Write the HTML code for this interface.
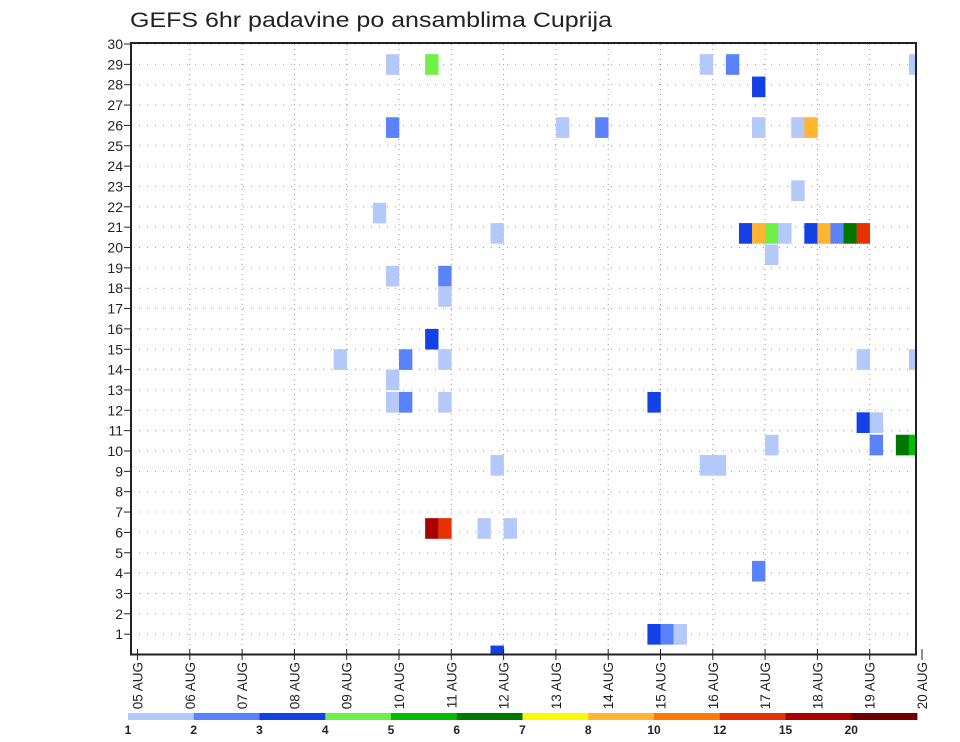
<!DOCTYPE html>
<html><head><meta charset="utf-8">
<style>
html,body{margin:0;padding:0;background:#fff;}
svg{display:block;font-family:"Liberation Sans",sans-serif;}
</style></head>
<body>
<svg id="chart" width="960" height="742" viewBox="0 0 960 742" xmlns="http://www.w3.org/2000/svg">
<text x="130" y="27" font-size="21" fill="#222" textLength="482" lengthAdjust="spacingAndGlyphs">GEFS 6hr padavine po ansamblima Cuprija</text>
<defs><clipPath id="plotclip"><rect x="131" y="44" width="785" height="610.5"/></clipPath></defs>
<g id="grid"></g>
<g id="cells" clip-path="url(#plotclip)"></g>
<rect x="131" y="43" width="785" height="611.5" fill="none" stroke="#222" stroke-width="2"/>
<g id="axes"></g>
<g id="colorbar"></g>
</svg>
<script>
// ---- data ----
const dayLabels = ["05 AUG","06 AUG","07 AUG","08 AUG","09 AUG","10 AUG","11 AUG","12 AUG","13 AUG","14 AUG","15 AUG","16 AUG","17 AUG","18 AUG","19 AUG","20 AUG"];
const memberTicks = [1,2,3,4,5,6,7,8,9,10,11,12,13,14,15,16,17,18,19,20,21,22,23,24,25,26,27,28,29,30];
const levelLabels = ["1","2","3","4","5","6","7","8","10","12","15","20"];
const levelColors = ["#b4c8fa","#5a82fa","#1441e6","#6ef046","#00be00","#007800","#fafa00","#ffb432","#ff7800","#e63200","#aa0000","#6e0000"];
// cell time step (6-hour steps from 05 AUG 00z), member position, precip level index
const cellStep =   [19,22,43,45,59, 47, 19,32,35,47,50,51, 50, 18, 27,46,47,48,49,51,52,53,54,55, 48, 19,23, 23, 22, 15,20,23,55,59, 19, 19,20,23,39, 55,56, 48,56,58,59, 27,43,44, 22,23,26,28, 47, 39,40,41, 27];
const cellMember = [29,29,29,29,29, 27.9, 25.9,25.9,25.9,25.9,25.9,25.9, 22.8, 21.7, 20.7,20.7,20.7,20.7,20.7,20.7,20.7,20.7,20.7,20.7, 19.65, 18.6,18.6, 17.6, 15.5, 14.5,14.5,14.5,14.5,14.5, 13.5, 12.4,12.4,12.4,12.4, 11.4,11.4, 10.3,10.3,10.3,10.3, 9.3,9.3,9.3, 6.2,6.2,6.2,6.2, 4.1, 1,1,1, -0.06];
const cellLevel =  [0,3,0,1,0, 2, 1,0,1,0,0,7, 0, 0, 0,2,7,3,0,2,7,1,5,9, 0, 0,1, 0, 2, 0,1,0,0,0, 0, 0,1,0,2, 2,0, 0,1,5,4, 0,0,0, 10,9,0,0, 1, 2,1,0, 2];

// ---- axes ----
const NS="http://www.w3.org/2000/svg";
const X0=137.5, DAY=52.3, STEP=DAY/4;
const xDay = d => X0 + d*DAY;
const xStep = k => X0 + k*STEP;
const YB=654.5, ROW=20.35;
const yVal = v => YB - v*ROW;
function mk(tag, attrs, parent){const e=document.createElementNS(NS,tag);for(const k in attrs)e.setAttribute(k,attrs[k]);parent.appendChild(e);return e;}

const grid=document.getElementById('grid');
memberTicks.forEach(m=>{
  const l=mk('line',{x1:131,x2:916,y1:yVal(m),y2:yVal(m),stroke:'#999','stroke-width':1,'stroke-dasharray':'1 7'},grid);
  
  
});
dayLabels.forEach((d,i)=>{
  if(i===0||i===dayLabels.length-1) return;
  const l=mk('line',{x1:xDay(i),x2:xDay(i),y1:44,y2:654,stroke:'#999','stroke-width':1,'stroke-dasharray':'1 4'},grid);
  
  
});

const cells=document.getElementById('cells');
cellStep.forEach((k,i)=>{
  const v=cellMember[i];
  const r=mk('rect',{x:xStep(k),y:yVal(v+0.5),width:STEP+0.3,height:ROW+0.3,fill:levelColors[cellLevel[i]]},cells);
  
  
});

const axes=document.getElementById('axes');
memberTicks.forEach(m=>{
  const t=mk('line',{x1:124,x2:131,y1:yVal(m),y2:yVal(m),stroke:'#222','stroke-width':1},axes);
  
  
  const tx=mk('text',{x:123,y:yVal(m)+5,'text-anchor':'end','font-size':14,fill:'#222'},axes);
  tx.textContent=m;
  
  
});
dayLabels.forEach((d,i)=>{
  const x=xDay(i);
  const t=mk('line',{x1:x,x2:x,y1:649,y2:660,stroke:'#222','stroke-width':1},axes);
  
  
  const tx=mk('text',{transform:`translate(${x+5},662) rotate(-90)`,'text-anchor':'end','font-size':13.5,fill:'#222'},axes);
  tx.textContent=d;
  
  
});

const cb=document.getElementById('colorbar');
const CBX=128, CBW=789, segW=CBW/levelColors.length;
levelColors.forEach((c,i)=>{
  const r=mk('rect',{x:CBX+i*segW,y:713,width:segW+0.4,height:7,fill:c},cb);
  
  
});
levelLabels.forEach((l,i)=>{
  const tx=mk('text',{x:CBX+i*segW,y:734,'text-anchor':'middle','font-size':12,'font-weight':'bold',fill:'#222'},cb);
  tx.textContent=l;
  
  
});
</script>
</body></html>
